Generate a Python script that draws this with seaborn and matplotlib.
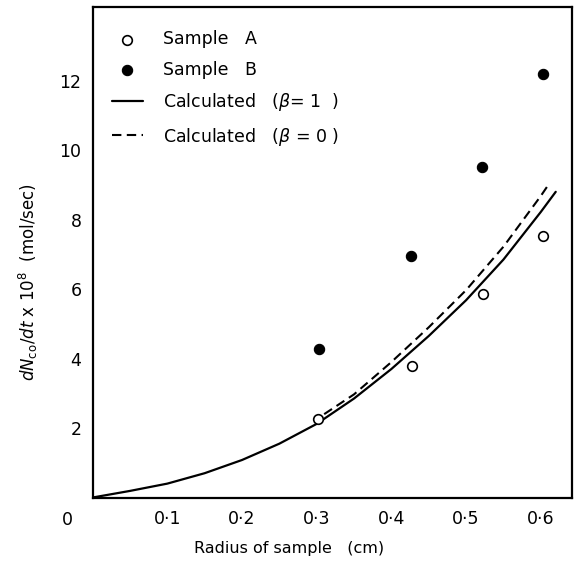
import matplotlib
matplotlib.use("Agg")
import matplotlib.pyplot as plt
import seaborn as sns
import pandas as pd

# ---- data ----
sample_a_r = [0.302, 0.428, 0.522, 0.6025]
sample_a_v = [2.27, 3.78, 5.86, 7.52]
sample_b_r = [0.303, 0.426, 0.521, 0.603]
sample_b_v = [4.28, 6.96, 9.52, 12.2]

calc1_r = [0.0, 0.05, 0.10, 0.15, 0.20, 0.25, 0.30, 0.35, 0.40, 0.45, 0.50, 0.55, 0.60, 0.62]
calc1_v = [0.0, 0.19, 0.40, 0.70, 1.08, 1.55, 2.12, 2.85, 3.70, 4.65, 5.68, 6.85, 8.22, 8.80]
calc0_r = [0.31, 0.35, 0.40, 0.45, 0.50, 0.55, 0.60, 0.612]
calc0_v = [2.40, 2.97, 3.90, 4.90, 5.97, 7.22, 8.68, 9.06]

x_ticks = [0.1, 0.2, 0.3, 0.4, 0.5, 0.6]
x_tick_labels = ["0·1", "0·2", "0·3", "0·4", "0·5", "0·6"]
y_ticks = [2, 4, 6, 8, 10, 12]
y_tick_labels = ["2", "4", "6", "8", "10", "12"]

df_a = pd.DataFrame({"r": sample_a_r, "v": sample_a_v})
df_b = pd.DataFrame({"r": sample_b_r, "v": sample_b_v})
df_c1 = pd.DataFrame({"r": calc1_r, "v": calc1_v})
df_c0 = pd.DataFrame({"r": calc0_r, "v": calc0_v})

sns.set_theme(style="white")
plt.rcParams["font.family"] = ["DejaVu Sans"]
plt.rcParams["text.color"] = "black"
plt.rcParams["axes.labelcolor"] = "black"
plt.rcParams["xtick.color"] = "black"
plt.rcParams["ytick.color"] = "black"

fig = plt.figure(figsize=(5.8, 5.66), dpi=100)
ax = fig.add_axes([0.1597, 0.121, 0.8260, 0.8666])

lbl1 = "Calculated   ($\\beta$= 1  )"
lbl0 = "Calculated   ($\\beta$ = 0 )"
lblA = "Sample   A"
lblB = "Sample   B"

sns.lineplot(data=df_c1, x="r", y="v", ax=ax, color="black", lw=1.6,
             label=lbl1, sort=False)
sns.lineplot(data=df_c0, x="r", y="v", ax=ax, color="black", lw=1.5,
             label=lbl0, sort=False)
ax.lines[-1].set_dashes((4.5, 2.6))
sns.scatterplot(data=df_a, x="r", y="v", ax=ax, marker="o", s=48,
                facecolor="white", edgecolor="black", linewidth=1.2,
                label=lblA, zorder=5)
sns.scatterplot(data=df_b, x="r", y="v", ax=ax, marker="o", s=55,
                color="black", edgecolor="black", linewidth=0.8,
                label=lblB, zorder=5)

ax.set_xlim(0, 0.6414)
ax.set_ylim(0, 14.12)
ax.set_xticks(x_ticks)
ax.set_xticklabels(x_tick_labels)
ax.set_yticks(y_ticks)
ax.set_yticklabels(y_tick_labels)
ax.tick_params(axis="both", direction="in", length=9, width=1.0,
               colors="black", labelsize=12.5)
ax.tick_params(axis="x", pad=9)
ax.tick_params(axis="y", pad=8)
for sp in ax.spines.values():
    sp.set_visible(True)
    sp.set_color("black")
    sp.set_linewidth(1.6)

ax.set_xlabel("Radius of sample   (cm)", fontsize=11.5, color="black")
ax.set_ylabel("$dN_{\\rm co}/dt$ x 10$^{8}$  (mol/sec)", fontsize=12,
              color="black")
ax.xaxis.set_label_coords(0.41, -0.088)
ax.yaxis.set_label_coords(-0.11, 0.44)

ax.annotate("0", xy=(0, 0), xycoords="axes fraction", xytext=(-18, -16),
            textcoords="offset points", ha="center", va="center",
            fontsize=12.5, color="black")

handles, labels = ax.get_legend_handles_labels()
order = [labels.index(l) for l in [lblA, lblB, lbl1, lbl0]]
ax.legend([handles[i] for i in order], [labels[i] for i in order],
          loc="upper left", bbox_to_anchor=(0.0405, 0.953), frameon=False,
          fontsize=12.5, handlelength=1.78, handletextpad=1.15,
          labelspacing=0.72, borderaxespad=0, borderpad=0,
          labelcolor="black")

fig.savefig("out.png", dpi=100, facecolor="white")
